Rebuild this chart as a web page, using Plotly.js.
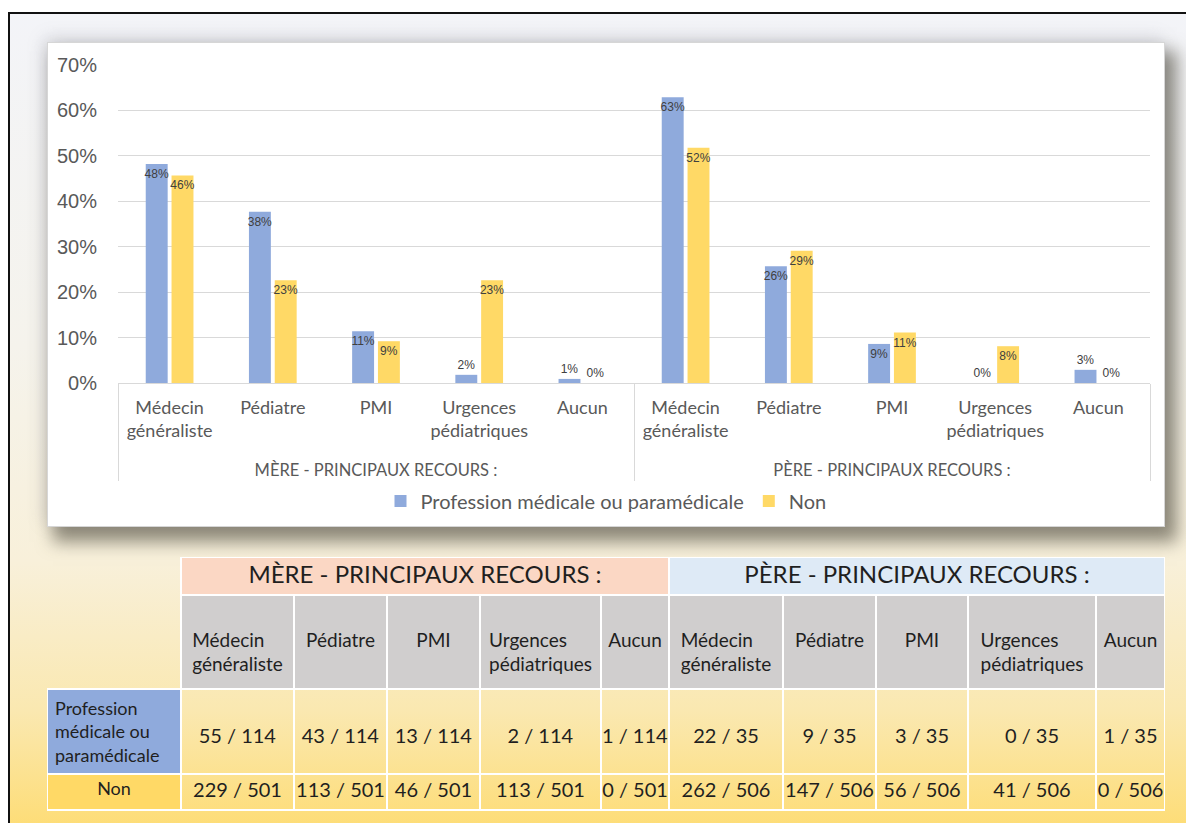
<!DOCTYPE html>
<html><head><meta charset="utf-8">
<script src="https://cdn.plot.ly/plotly-3.0.1.min.js"></script>
<style>
html,body{margin:0;padding:0;width:1186px;height:823px;overflow:hidden;background:#fff;}
#frame{position:absolute;left:8px;top:12px;width:1200px;height:830px;border-left:2px solid #111;border-top:2px solid #111;
 background:linear-gradient(to bottom,#f3f4f8 0%,#f5f3ec 40%,#f8f0da 66%,#fae8b0 84%,#fedb6e 100%);}
#chart{position:absolute;left:47px;top:42px;width:1116px;height:483px;background:#fff;border:1px solid #d6d6d6;
 box-shadow:9px 12px 16px 3px rgba(75,72,58,0.6), -3px -4px 16px rgba(120,120,135,0.22);}
#table{position:absolute;left:47px;top:557px;width:1118px;height:266px;}
</style></head>
<body>
<div id="frame"></div>
<div id="chart"></div>
<div id="table"></div>
<script>
// ---- data ----
const groupLabels = ['MÈRE - PRINCIPAUX RECOURS :', 'PÈRE - PRINCIPAUX RECOURS :'];
const categories = ['Médecin généraliste', 'Pédiatre', 'PMI', 'Urgences pédiatriques', 'Aucun'];
const seriesNames = ['Profession médicale ou paramédicale', 'Non'];
const proMere = [48.2, 37.7, 11.4, 1.8, 0.9];
const proPere = [62.9, 25.7, 8.6, 0, 2.9];
const nonMere = [45.7, 22.6, 9.2, 22.6, 0];
const nonPere = [51.8, 29.1, 11.1, 8.1, 0];
const yTicks = [0, 10, 20, 30, 40, 50, 60, 70];
const yTickText = ['0%', '10%', '20%', '30%', '40%', '50%', '60%', '70%'];
const tableRowLabels = ['Profession<br>médicale ou<br>paramédicale', 'Non'];
const proCountsMere = ['55 / 114', '43 / 114', '13 / 114', '2 / 114', '1 / 114'];
const proCountsPere = ['22 / 35', '9 / 35', '3 / 35', '0 / 35', '1 / 35'];
const nonCountsMere = ['229 / 501', '113 / 501', '46 / 501', '113 / 501', '0 / 501'];
const nonCountsPere = ['262 / 506', '147 / 506', '56 / 506', '41 / 506', '0 / 506'];

// ---- chart ----
const BLUE = '#8faadc', YELLOW = '#ffd966';
const lvl1 = groupLabels.flatMap(g => categories.map(() => '\u00a0<br><span style="font-size:16.5px">' + g + '</span>'));
const lvl2 = groupLabels.flatMap(() => categories.map(c => c.replace(' ', '<br>')));
function barTrace(name, vals, color) {
  return {
    type: 'bar', name: name, x: [lvl1, lvl2], y: vals,
    marker: {color: color},
    texttemplate: '%{y:.0f}%',
    textposition: vals.map(v => v >= 5 ? 'inside' : 'outside'),
    insidetextanchor: 'end', constraintext: 'none', cliponaxis: false, textangle: 0,
    textfont: {family: 'Liberation Sans, Arial, sans-serif', size: 12, color: '#404040'},
    hoverinfo: 'skip'
  };
}
const traces = [
  barTrace(seriesNames[0], proMere.concat(proPere), BLUE),
  barTrace(seriesNames[1], nonMere.concat(nonPere), YELLOW)
];
const layout = {
  width: 1116, height: 483,
  margin: {l: 70, r: 14, t: 22, b: 143},
  paper_bgcolor: 'rgba(0,0,0,0)', plot_bgcolor: 'rgba(0,0,0,0)',
  barmode: 'group', bargap: 0.5, bargroupgap: 0.15,
  font: {family: 'Lato, sans-serif', color: '#595959'},
  yaxis: {range: [0, 70], tickmode: 'array', tickvals: yTicks, ticktext: yTickText,
    gridcolor: '#d9d9d9', gridwidth: 1, zeroline: false, ticklabelstandoff: 20,
    tickfont: {family: 'Liberation Sans, Arial, sans-serif', size: 20, color: '#595959'}},
  xaxis: {type: 'multicategory', showline: true, linecolor: '#d9d9d9', linewidth: 1,
    ticklabelstandoff: 8, tickangle: 0,
    tickfont: {family: 'Lato, sans-serif', size: 18, color: '#595959'},
    showdividers: true, dividercolor: '#d9d9d9', dividerwidth: 1},
  legend: {orientation: 'h', xref: 'container', x: 0.5, xanchor: 'center',
    yref: 'container', y: 0.052, yanchor: 'middle',
    font: {family: 'Lato, sans-serif', size: 20, color: '#595959'}},
  showlegend: true
};
Plotly.newPlot('chart', traces, layout, {displayModeBar: false, staticPlot: true});

// ---- table ----
const H = 266, W = 1118, firstCol = 134;
const colW = [113, 93, 93, 121, 68, 114, 93, 92, 128, 69];
const TXT = '#1f1f1f', TF = 'Lato, sans-serif', CLEAR = 'rgba(0,0,0,0)';
const nb = s => s.replace(/ /g, '\u00a0');
const pad = s => '\u00a0<br>' + s;
const catHeader = groupLabels.flatMap(() => categories.map(c => pad(c.replace(' ', '<br>'))));
const tGroup = {
  type: 'table', domain: {x: [firstCol / W, 1], y: [0, 1]},
  columnwidth: [colW.slice(0, 5).reduce((a, b) => a + b), colW.slice(5).reduce((a, b) => a + b)],
  header: {values: groupLabels.map(g => [nb(g)]), height: 38, align: 'center',
    fill: {color: ['#fbd7c4', '#deeaf6']}, line: {color: '#ffffff', width: 2},
    font: {family: TF, size: 24, color: TXT}},
  cells: {values: []}
};
const dataCols = [[tableRowLabels[0], tableRowLabels[1]]].concat(
  proCountsMere.concat(proCountsPere).map((v, i) =>
    [pad(nb(v)), nb(nonCountsMere.concat(nonCountsPere)[i])]));
const tMain = {
  type: 'table', domain: {x: [0, 1], y: [0, 1 - 38 / H]},
  columnwidth: [firstCol].concat(colW),
  header: {values: [['']].concat(catHeader.map(c => [c])), height: 94, align: 'center',
    fill: {color: [CLEAR].concat(colW.map(() => '#d0cece'))},
    line: {color: [CLEAR].concat(colW.map(() => '#ffffff')), width: 2},
    font: {family: TF, size: 19, color: TXT}},
  cells: {values: dataCols, height: 36,
    align: [['left', 'center']].concat(colW.map(() => ['center', 'center'])),
    fill: {color: [[BLUE, YELLOW]].concat(colW.map(() => [CLEAR, CLEAR]))},
    line: {color: '#ffffff', width: 2},
    font: {family: TF, size: [18].concat(colW.map(() => 20)), color: TXT}}
};
Plotly.newPlot('table', [tGroup, tMain], {
  width: W, height: H, margin: {l: 0, r: 0, t: 0, b: 0},
  paper_bgcolor: 'rgba(0,0,0,0)'
}, {displayModeBar: false, staticPlot: true});
</script>
</body></html>
